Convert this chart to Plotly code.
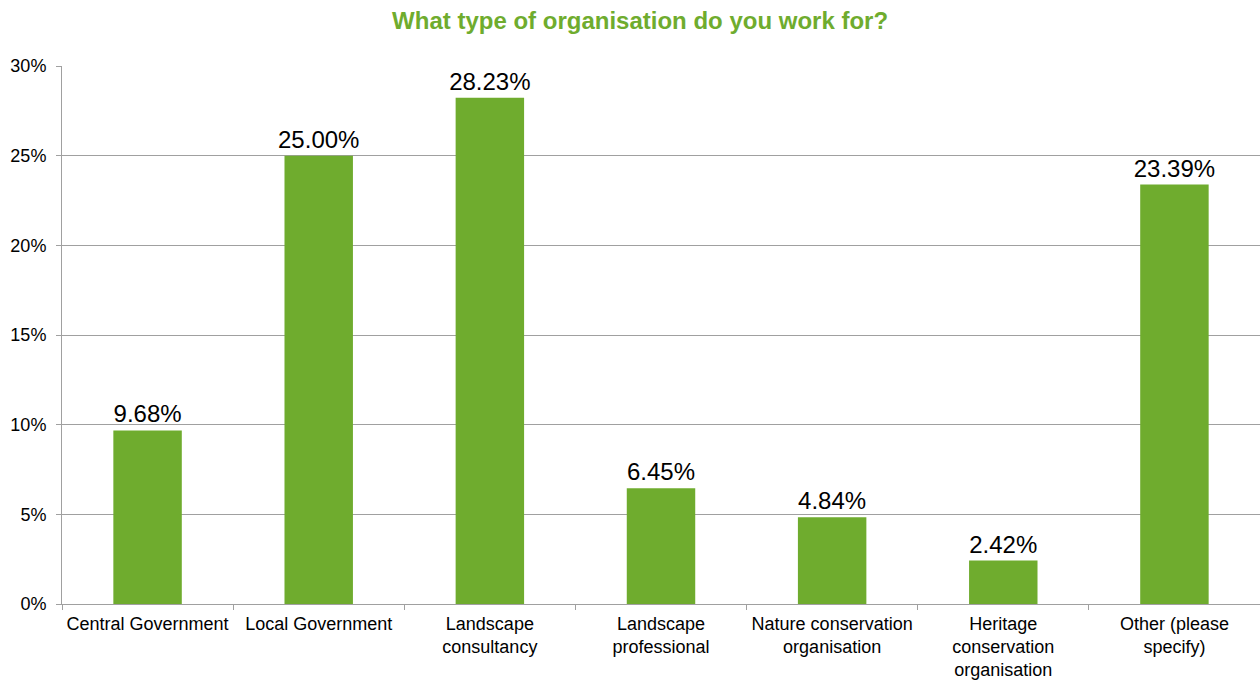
import plotly.graph_objects as go

categories = [
    "Central Government",
    "Local Government",
    "Landscape<br>consultancy",
    "Landscape<br>professional",
    "Nature conservation<br>organisation",
    "Heritage<br>conservation<br>organisation",
    "Other (please<br>specify)",
]
values = [0.0968, 0.2500, 0.2823, 0.0645, 0.0484, 0.0242, 0.2339]

green = "#6FAC2E"
gray = "#A0A0A0"

fig = go.Figure(
    go.Bar(
        x=categories,
        y=values,
        marker=dict(color=green, line=dict(width=0)),
        width=0.4,
        texttemplate="%{y:.2%}",
        textposition="outside",
        constraintext="none",
        textfont=dict(size=24, color="#000000", family="Liberation Sans, Arial"),
        cliponaxis=False,
    )
)

fig.update_layout(
    width=1260,
    height=680,
    margin=dict(l=62, r=0, t=66, b=76),
    paper_bgcolor="white",
    plot_bgcolor="white",
    font=dict(family="Liberation Sans, Arial", size=18, color="#000000"),
    title=dict(
        text="<b>What type of organisation do you work for?</b>",
        x=0.508,
        xanchor="center",
        y=0.97,
        yanchor="middle",
        font=dict(size=24, color=green, family="Liberation Sans, Arial"),
    ),
    showlegend=False,
    bargap=0.6,
)

fig.update_xaxes(
    tickson="boundaries",
    ticks="outside",
    ticklen=5,
    tickcolor=gray,
    showline=True,
    linecolor=gray,
    linewidth=1,
    showgrid=False,
    tickfont=dict(size=18),
    ticklabelstandoff=3,
)

fig.update_yaxes(
    range=[0, 0.30],
    dtick=0.05,
    tickformat=".0%",
    ticks="outside",
    ticklen=5,
    tickcolor=gray,
    showline=True,
    linecolor=gray,
    linewidth=1,
    showgrid=True,
    gridcolor=gray,
    gridwidth=1,
    zeroline=False,
    tickfont=dict(size=18),
    ticklabelstandoff=6,
)

fig.write_html("out.html")
